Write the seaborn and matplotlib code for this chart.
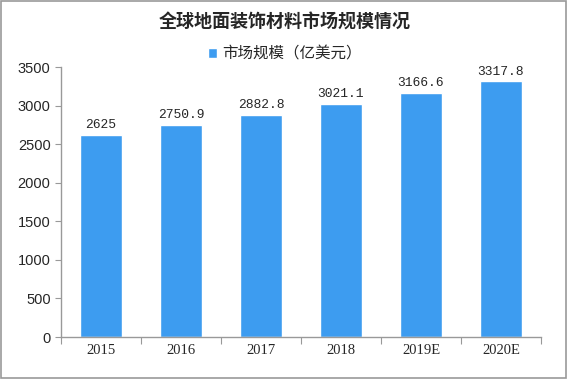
import matplotlib.pyplot as plt
import seaborn as sns
import pandas as pd
from matplotlib.patches import Rectangle

years = ["2015", "2016", "2017", "2018", "2019E", "2020E"]
market = [2625, 2750.9, 2882.8, 3021.1, 3166.6, 3317.8]
value_labels = ["2625", "2750.9", "2882.8", "3021.1", "3166.6", "3317.8"]
y_ticks = [0, 500, 1000, 1500, 2000, 2500, 3000, 3500]

sns.set_style("white")
plt.rcParams['font.family'] = ['Noto Sans CJK SC', 'DejaVu Sans']

df = pd.DataFrame({"year": years, "value": market})

fig = plt.figure(figsize=(5.68, 3.79), dpi=100)
ax = fig.add_axes([0.1074, 0.1108, 0.845, 0.7124])

sns.barplot(data=df, x="year", y="value", color="#3d9cf0", saturation=1,
            width=0.525, ax=ax, label="市场规模（亿美元）")

ax.set_xlim(-0.5, 5.5)
ax.set_ylim(0, 3500)
ax.set_yticks(y_ticks)
ax.set_yticklabels([str(t) for t in y_ticks], fontsize=10.5, family=['Liberation Sans', 'DejaVu Sans'])
ax.set_xlabel("")
ax.set_ylabel("")

# x ticks sit on the category boundaries
ax.set_xticks([i - 0.5 for i in range(7)])
ax.set_xticklabels([])
ax.tick_params(axis="x", length=5, color="#999999", direction="out", bottom=True)
ax.tick_params(axis="y", length=4, color="#999999", direction="out", left=True)
for i, y in enumerate(years):
    ax.text(i, -95, y, ha="center", va="top", fontsize=10.5,
            family=['Liberation Serif', 'DejaVu Serif'])

for s in ["top", "right"]:
    ax.spines[s].set_visible(False)
for s in ["left", "bottom"]:
    ax.spines[s].set_color("#999999")
    ax.spines[s].set_linewidth(1)

for i, (v, lab) in enumerate(zip(market, value_labels)):
    ax.annotate(lab, (i, v), xytext=(0, 2.5), textcoords="offset points",
                ha="center", va="bottom", fontsize=9.4,
                family=['Liberation Mono', 'DejaVu Sans Mono'])

fig.text(0.502, 0.942, "全球地面装饰材料市场规模情况", ha="center", va="center",
         fontsize=13, fontweight="bold")

leg = ax.legend(loc="center", bbox_to_anchor=(0.502, 0.858), bbox_transform=fig.transFigure,
                frameon=False, fontsize=11.2, handlelength=0.55, handleheight=0.55,
                handletextpad=0.35)

fig.patches.append(Rectangle((0.002, 0.003), 0.995, 0.994, transform=fig.transFigure,
                             fill=False, edgecolor="#999999", linewidth=1.2))

fig.savefig("out.png", dpi=100)
